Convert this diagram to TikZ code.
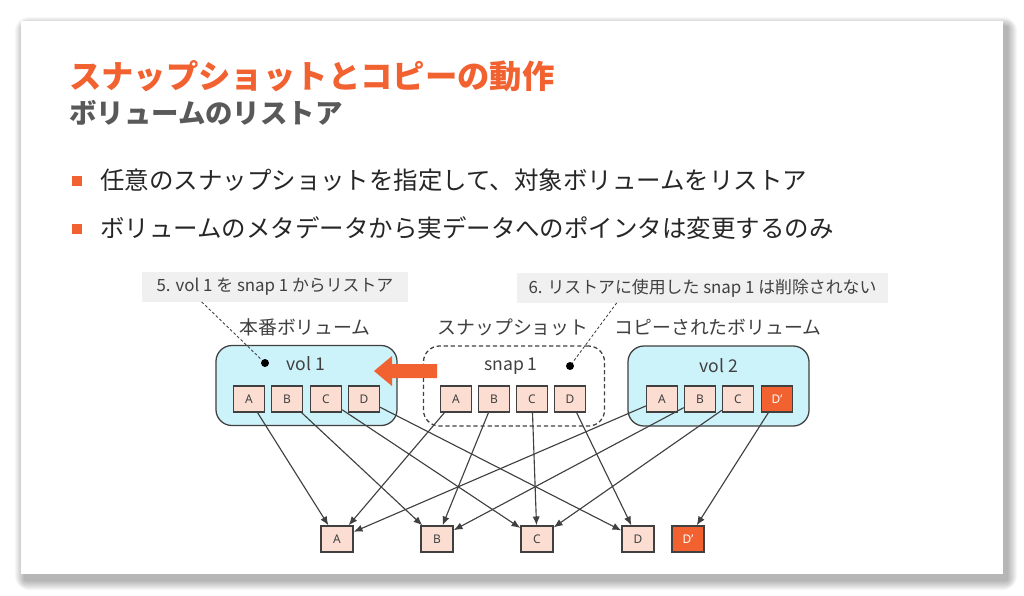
\documentclass[tikz,border=0pt]{standalone}
\usepackage{fontspec}
\setmainfont{Noto Sans CJK JP}
\newfontfamily\boxfont{Noto Sans}
\usepackage{tikz}
\usetikzlibrary{arrows.meta, positioning}
\definecolor{accent}{HTML}{F26130}
\definecolor{ink}{HTML}{404040}
\definecolor{volfill}{HTML}{CCF2FA}
\definecolor{blockfill}{HTML}{FBDDD2}
\definecolor{notefill}{HTML}{F0F0F0}
\tikzset{
    blk/.style={draw=ink, line width=1pt, fill=blockfill, minimum width=0.775cm, minimum height=0.65cm, inner sep=0pt, font=\boxfont\fontsize{8.5}{10}\selectfont, text=ink},
    newblk/.style={blk, fill=accent, text=white},
    vol/.style={draw=ink, line width=0.9pt, fill=volfill, rounded corners=0.4cm, minimum width=4.525cm, minimum height=2cm},
    snapbox/.style={vol, fill=none, dash pattern=on 3pt off 2pt},
    note/.style={fill=notefill, font=\fontsize{12}{14}\selectfont, text=ink, minimum height=0.73cm, inner sep=0pt},
    lbl/.style={font=\fontsize{13.4}{16}\selectfont, text=ink, inner sep=0pt},
    bullet/.style={fill=accent, minimum size=0.25cm, inner sep=0pt},
    item/.style={anchor=west, font=\fontsize{17.4}{20}\selectfont, text=black!85, inner sep=0pt},
    ptr/.style={-{Latex[length=2.2mm, width=1.8mm]}, ink, line width=0.8pt},
    leader/.style={ink, line width=0.6pt, dash pattern=on 2pt off 1.5pt},
    dot/.style={circle, fill=black, inner sep=0pt, minimum size=0.2cm},
}

\begin{document}
\begin{tikzpicture}[x={(0.025cm,0)}, y={(0,-0.025cm)}]
        \useasboundingbox (0,0) rectangle (1024,595);
        \fill[white] (0,0) rectangle (1024,595);
        \foreach \r in {1,...,10}
            \fill[black, opacity=0.03, rounded corners=\r] (25-\r,27-\r) rectangle (1007+\r,580+\r);
        \fill[white] (21,21) rectangle (1003,574);

        \node[anchor=west, inner sep=0pt, text=accent, font=\fontsize{23}{27}\selectfont\bfseries] (title) at (69,76) {スナップショットとコピーの動作};
        \node[anchor=west, inner sep=0pt, text=black!65, font=\fontsize{19.5}{23}\selectfont\bfseries] (subtitle) at (69,113) {ボリュームのリストア};

        \node[bullet] (m1) at (77,181) {};
        \node[item] (i1) at (100,180) {任意のスナップショットを指定して、対象ボリュームをリストア};
        \node[bullet] (m2) at (77,229) {};
        \node[item] (i2) at (100,228) {ボリュームのメタデータから実データへのポインタは変更するのみ};

        \node[note, minimum width=6.65cm] (n5) at (275,287) {5. vol 1 を snap 1 からリストア};
        \node[note, minimum width=9.275cm] (n6) at (702.5,288) {6. リストアに使用した snap 1 は削除されない};

        \node[lbl] (l1) at (305,327) {本番ボリューム};
        \node[lbl] (l2) at (513,327) {スナップショット};
        \node[lbl] (l3) at (718,327) {コピーされたボリューム};

        \node[vol] (v1) at (306.5,385.5) {};
        \node[snapbox] (s1) at (514,386) {};
        \node[vol] (v2) at (718.5,386) {};

        \node[lbl, font=\fontsize{12.5}{15}\selectfont] (v1name) at (306,364) {vol 1};
        \node[lbl, font=\fontsize{12.5}{15}\selectfont] (s1name) at (511,366) {snap 1};
        \node[lbl, font=\fontsize{12.5}{15}\selectfont] (v2name) at (719,366) {vol 2};
        \node[dot] (p5) at (265,363) {};
        \node[dot] (p6) at (570,366) {};

        \node[blk] (va) at (249,399) {A};
        \node[blk] (vb) at (287,399) {B};
        \node[blk] (vc) at (326,399) {C};
        \node[blk] (vd) at (364,399) {D};
        \node[blk] (sa) at (456,399) {A};
        \node[blk] (sb) at (494,399) {B};
        \node[blk] (sc) at (532,399) {C};
        \node[blk] (sd) at (570,399) {D};
        \node[blk] (wa) at (662,399) {A};
        \node[blk] (wb) at (700,399) {B};
        \node[blk] (wc) at (738,399) {C};
        \node[newblk] (wd) at (777,399) {D’};

        \node[blk, minimum width=0.8cm] (a) at (337,539) {A};
        \node[blk, minimum width=0.8cm] (b) at (437,539) {B};
        \node[blk, minimum width=0.8cm] (c) at (537,539) {C};
        \node[blk, minimum width=0.8cm] (d) at (638,539) {D};
        \node[newblk, minimum width=0.8cm] (dd) at (688,539) {D’};

        \fill[accent] (437,364) -- (392,364) -- (392,356) -- (374,371) -- (392,386) -- (392,378) -- (437,378) -- cycle;

        \draw[leader] ([xshift=1.5cm]n5.south west) -- (p5);
        \draw[leader] ([xshift=2.5cm]n6.south west) -- (p6);

        \draw[ptr] (va) -- (a);
        \draw[ptr] (vb) -- (b);
        \draw[ptr] (vc) -- (c);
        \draw[ptr] (vd) -- (d);
        \draw[ptr] (sa) -- (a);
        \draw[ptr] (sb) -- (b);
        \draw[ptr] (sc) -- (c);
        \draw[ptr] (sd) -- (d);
        \draw[ptr] (wa) -- (a);
        \draw[ptr] (wb) -- (b);
        \draw[ptr] (wc) -- (c);
        \draw[ptr] (wd) -- (dd);
    \end{tikzpicture}
\end{document}
